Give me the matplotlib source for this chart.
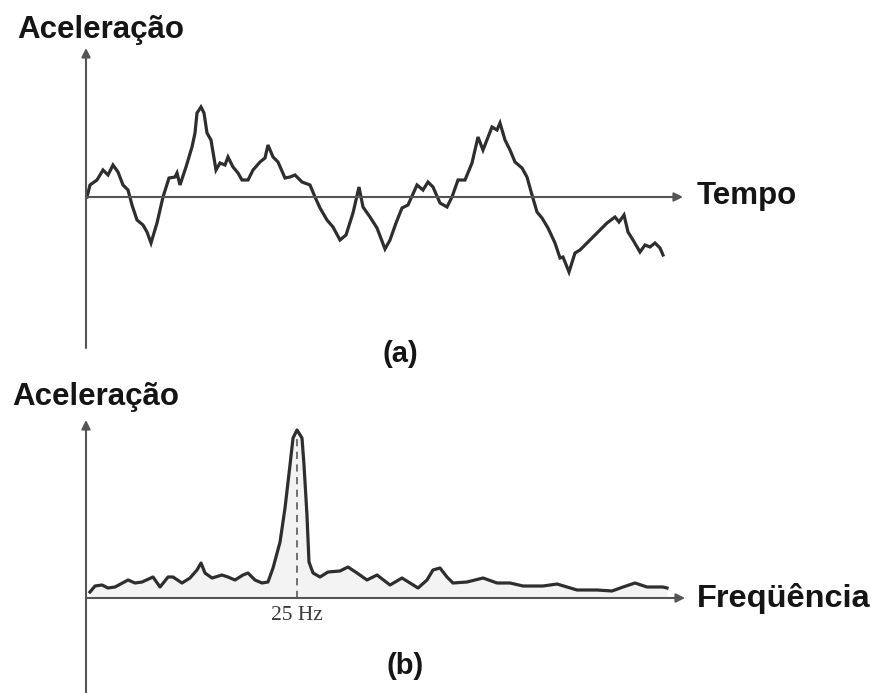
import matplotlib.pyplot as plt

plt.rcParams['font.family'] = ['Liberation Sans', 'DejaVu Sans']

# (a) acceleration in time (arbitrary units)
tempo = [0.1, 0.4, 1.1, 1.7, 2.2, 2.7, 3.2, 3.7, 4.2, 4.6, 5.1, 5.7, 6.1, 6.5, 7.1, 7.7,
         8.3, 8.9, 9.1, 9.4, 10.0, 10.6, 10.9, 11.1, 11.5, 11.8, 12.1, 12.5, 12.7, 13.0,
         13.4, 13.9, 14.2, 14.7, 15.2, 15.6, 16.2, 16.7, 17.4, 17.9, 18.2, 18.7, 19.2,
         19.9, 20.4, 20.9, 21.6, 22.4, 22.9, 23.4, 24.1, 24.7, 25.4, 26.0, 26.7, 27.3,
         27.7, 28.4, 29.1, 29.9, 30.4, 31.0, 31.6, 32.2, 33.1, 33.7, 34.2, 34.7, 35.4,
         36.1, 36.6, 37.2, 37.9, 38.6, 39.2, 39.7, 40.6, 41.1, 41.4, 41.9, 42.4, 42.9,
         43.6, 44.1, 44.6, 45.1, 45.6, 46.2, 46.9, 47.4, 47.7, 48.3, 48.9, 49.4, 50.1,
         50.7, 51.4, 52.1, 52.9, 53.3, 53.8, 54.2, 54.7, 55.4, 55.9, 56.4, 56.9, 57.4, 57.7]
acel_t = [0.0, 1.2, 1.7, 2.7, 2.2, 3.2, 2.5, 1.2, 0.7, -0.8, -2.3, -2.8, -3.5, -4.6, -2.6, 0.0,
          1.9, 2.0, 2.4, 1.2, 3.0, 5.0, 6.4, 8.4, 9.0, 8.4, 6.4, 5.7, 4.5, 2.7,
          3.4, 3.2, 4.0, 3.0, 2.4, 1.7, 1.7, 2.7, 3.5, 3.9, 5.2, 4.0, 3.5,
          1.9, 2.0, 2.2, 1.5, 1.2, 0.0, -1.1, -2.3, -3.0, -4.3, -3.8, -1.6, 1.0,
          -1.0, -2.0, -3.1, -5.2, -4.3, -2.6, -1.1, -0.8, 1.2, 0.7, 1.5, 1.0, -0.6,
          -1.0, 0.0, 1.7, 1.7, 3.4, 6.0, 4.7, 7.0, 6.7, 7.4, 5.7, 4.7, 3.5,
          2.9, 2.0, 0.2, -1.5, -2.1, -3.1, -4.6, -6.1, -6.0, -7.5, -5.6, -5.3, -4.6,
          -4.0, -3.3, -2.6, -2.0, -2.5, -1.8, -3.5, -4.3, -5.5, -4.8, -5.0, -4.6, -5.1, -5.8]

# (b) spectrum
freq = [0.47, 1.07, 1.90, 2.61, 3.44, 4.98, 5.81, 6.64, 7.94, 8.77, 9.72, 10.31, 11.37,
        12.32, 13.15, 13.63, 14.10, 14.93, 16.11, 16.82, 17.65, 18.60, 19.19, 20.02,
        20.85, 21.56, 22.16, 22.99, 23.58, 24.17, 24.53, 25.00, 25.59, 25.83, 26.18,
        26.42, 26.90, 27.73, 28.67, 30.09, 31.04, 32.11, 33.29, 34.48, 36.02, 37.44,
        39.34, 40.40, 41.11, 41.94, 42.77, 43.48, 45.14, 47.04, 48.70, 50.24, 51.78,
        54.15, 55.81, 58.18, 60.55, 62.32, 63.63, 65.05, 66.47, 68.36, 68.84]
acel_f = [0.6, 1.2, 1.3, 1.0, 1.1, 1.8, 1.5, 1.6, 2.1, 1.1, 2.1, 2.1, 1.5,
          2.0, 2.8, 3.5, 2.5, 2.0, 2.3, 2.1, 1.8, 2.3, 2.5, 1.8,
          1.5, 1.6, 3.0, 5.6, 9.0, 13.3, 16.0, 16.8, 16.0, 13.3, 8.3,
          3.6, 2.5, 2.1, 2.6, 2.7, 3.1, 2.5, 1.8, 2.3, 1.3, 2.0,
          1.0, 1.8, 2.8, 3.0, 2.1, 1.5, 1.6, 2.0, 1.5, 1.5, 1.2,
          1.2, 1.4, 0.8, 0.8, 0.7, 1.1, 1.5, 1.1, 1.1, 1.0]
f_pico = 25

W, H = 873, 693
fig = plt.figure(figsize=(W / 100, H / 100), dpi=100)

linecol = '#2e2e2e'
axcol = '#555555'
txtcol = '#151515'
lbl = dict(fontsize=22.5, fontweight='bold', color=txtcol, va='baseline')

def eixos(ax):
    ax.set_axis_off()
    arrow = dict(arrowstyle='-|>', color=axcol, lw=1.5, mutation_scale=13, shrinkA=0, shrinkB=0)
    ax.annotate('', xy=(0, 1), xytext=(0, 0), xycoords='axes fraction', arrowprops=arrow)
    ax.annotate('', xy=(1, 0), xytext=(0, 0), xycoords=ax.get_yaxis_transform(),
                arrowprops=arrow)

# top panel
ax1 = fig.add_axes([86 / W, (H - 348) / H, 597 / W, 300 / H])
ax1.set_xlim(0, 59.7)
ax1.set_ylim(-15.1, 14.9)
eixos(ax1)
ax1.plot(tempo, acel_t, color=linecol, lw=2.3, solid_joinstyle='miter')

fig.text(17 / W, 1 - 38 / H, 'Aceleração', **lbl)
fig.text(697 / W, 1 - 204 / H, 'Tempo', **lbl)
fig.text(400 / W, 1 - 354 / H, '(a)', fontsize=21, fontweight='bold', color=txtcol,
         ha='center', va='center')

# bottom panel
ax2 = fig.add_axes([86 / W, 0, 599 / W, 273 / H])
ax2.set_xlim(0, 70.97)
ax2.set_ylim(-9.5, 17.8)
eixos(ax2)
ax2.fill_between(freq, acel_f, 0, color='#f3f3f3', lw=0)
ax2.plot(freq, acel_f, color=linecol, lw=2.3, solid_joinstyle='round')
ax2.plot([f_pico, f_pico], [0, 16.3], color='#666666', lw=1.3, ls=(0, (4, 3)))
ax2.text(f_pico, -1.8, '25 Hz', fontsize=15.5, family=['Liberation Serif', 'DejaVu Serif'],
         color='#3a3a3a', ha='center', va='center')

fig.text(12 / W, 1 - 405 / H, 'Aceleração', **lbl)
fig.text(697 / W, 1 - 607 / H, 'Freqüência', fontsize=23.4, fontweight='bold', color=txtcol,
         va='baseline')
fig.text(405 / W, 1 - 666 / H, '(b)', fontsize=21, fontweight='bold', color=txtcol,
         ha='center', va='center')

fig.savefig('out.png', dpi=100, facecolor='white')
